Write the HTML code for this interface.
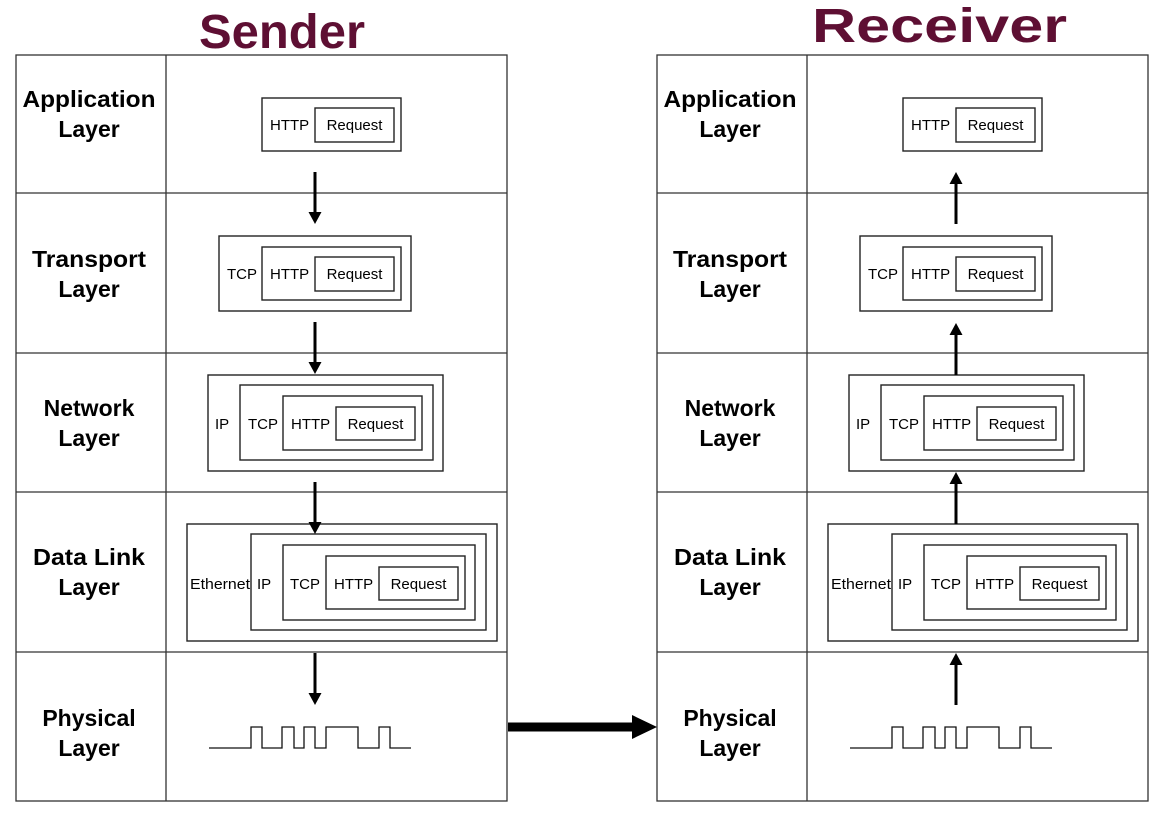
<!DOCTYPE html>
<html><head><meta charset="utf-8"><style>html,body{margin:0;padding:0;background:#fff}svg{display:block}svg text{font-family:"Liberation Sans",Arial,sans-serif}</style></head>
<body>
<svg width="1164" height="816" viewBox="0 0 1164 816" xmlns="http://www.w3.org/2000/svg" style="font-family:'Liberation Sans',Arial,sans-serif">
<defs>
<g id="side">
  <rect x="16" y="55" width="491" height="746" fill="none" stroke="#333" stroke-width="1.3"/>
  <line x1="166" y1="55" x2="166" y2="801" stroke="#333" stroke-width="1.3"/>
  <line x1="16" y1="193" x2="507" y2="193" stroke="#333" stroke-width="1.3"/>
  <line x1="16" y1="353" x2="507" y2="353" stroke="#333" stroke-width="1.3"/>
  <line x1="16" y1="492" x2="507" y2="492" stroke="#333" stroke-width="1.3"/>
  <line x1="16" y1="652" x2="507" y2="652" stroke="#333" stroke-width="1.3"/>
  <g font-weight="bold" font-size="23" text-anchor="middle" fill="#000">
    <text x="89" y="107" textLength="133" lengthAdjust="spacingAndGlyphs">Application</text>
    <text x="89" y="137">Layer</text>
    <text x="89" y="267" textLength="114" lengthAdjust="spacingAndGlyphs">Transport</text>
    <text x="89" y="297">Layer</text>
    <text x="89" y="416">Network</text>
    <text x="89" y="446">Layer</text>
    <text x="89" y="565" textLength="112" lengthAdjust="spacingAndGlyphs">Data Link</text>
    <text x="89" y="595">Layer</text>
    <text x="89" y="726">Physical</text>
    <text x="89" y="756">Layer</text>
  </g>
  <g fill="none" stroke="#222" stroke-width="1.4">
    <rect x="262" y="98" width="139" height="53"/>
    <rect x="315" y="108" width="79" height="34"/>
    <rect x="219" y="236" width="192" height="75"/>
    <rect x="262" y="247" width="139" height="53"/>
    <rect x="315" y="257" width="79" height="34"/>
    <rect x="208" y="375" width="235" height="96"/>
    <rect x="240" y="385" width="193" height="75"/>
    <rect x="283" y="396" width="139" height="54"/>
    <rect x="336" y="407" width="79" height="33"/>
    <rect x="187" y="524" width="310" height="117"/>
    <rect x="251" y="534" width="235" height="96"/>
    <rect x="283" y="545" width="192" height="75"/>
    <rect x="326" y="556" width="139" height="53"/>
    <rect x="379" y="567" width="79" height="33"/>
    <polyline points="209,748 251,748 251,727 262,727 262,748 282,748 282,727 294,727 294,748 304,748 304,727 315,727 315,748 326,748 326,727 358,727 358,748 379,748 379,727 390,727 390,748 411,748" stroke="#111" stroke-width="1.3"/>
  </g>
  <g font-size="15" fill="#000">
    <text x="270" y="130">HTTP</text><text x="354.5" y="130" text-anchor="middle">Request</text>
    <text x="227" y="279">TCP</text><text x="270" y="279">HTTP</text><text x="354.5" y="279" text-anchor="middle">Request</text>
    <text x="215" y="429">IP</text><text x="248" y="429">TCP</text><text x="291" y="429">HTTP</text><text x="375.5" y="429" text-anchor="middle">Request</text>
    <text x="190" y="589" font-size="14.5" textLength="60" lengthAdjust="spacingAndGlyphs">Ethernet</text><text x="257" y="589">IP</text><text x="290" y="589">TCP</text><text x="334" y="589">HTTP</text><text x="418.5" y="589" text-anchor="middle">Request</text>
  </g>
</g>
<g id="adown" fill="#000">
  <rect x="-1.5" y="0" width="3" height="42"/>
  <polygon points="-6.5,40 6.5,40 0,52"/>
</g>
</defs>
<use href="#side"/>
<use href="#side" x="641"/>
<use href="#adown" x="315" y="172"/>
<use href="#adown" x="315" y="322"/>
<use href="#adown" x="315" y="482"/>
<use href="#adown" x="315" y="653"/>
<g transform="translate(956,224) scale(1,-1)"><use href="#adown"/></g>
<g transform="translate(956,375) scale(1,-1)"><use href="#adown"/></g>
<g transform="translate(956,524) scale(1,-1)"><use href="#adown"/></g>
<g transform="translate(956,705) scale(1,-1)"><use href="#adown"/></g>
<rect x="508" y="722.5" width="127" height="9" fill="#000"/>
<polygon points="632,715 657,727 632,739" fill="#000"/>
<g font-weight="bold" font-size="48" fill="#5e0f33">
  <text x="199" y="48" textLength="166" lengthAdjust="spacingAndGlyphs">Sender</text>
  <text x="812" y="42" textLength="255" lengthAdjust="spacingAndGlyphs">Receiver</text>
</g>
</svg>
</body></html>
